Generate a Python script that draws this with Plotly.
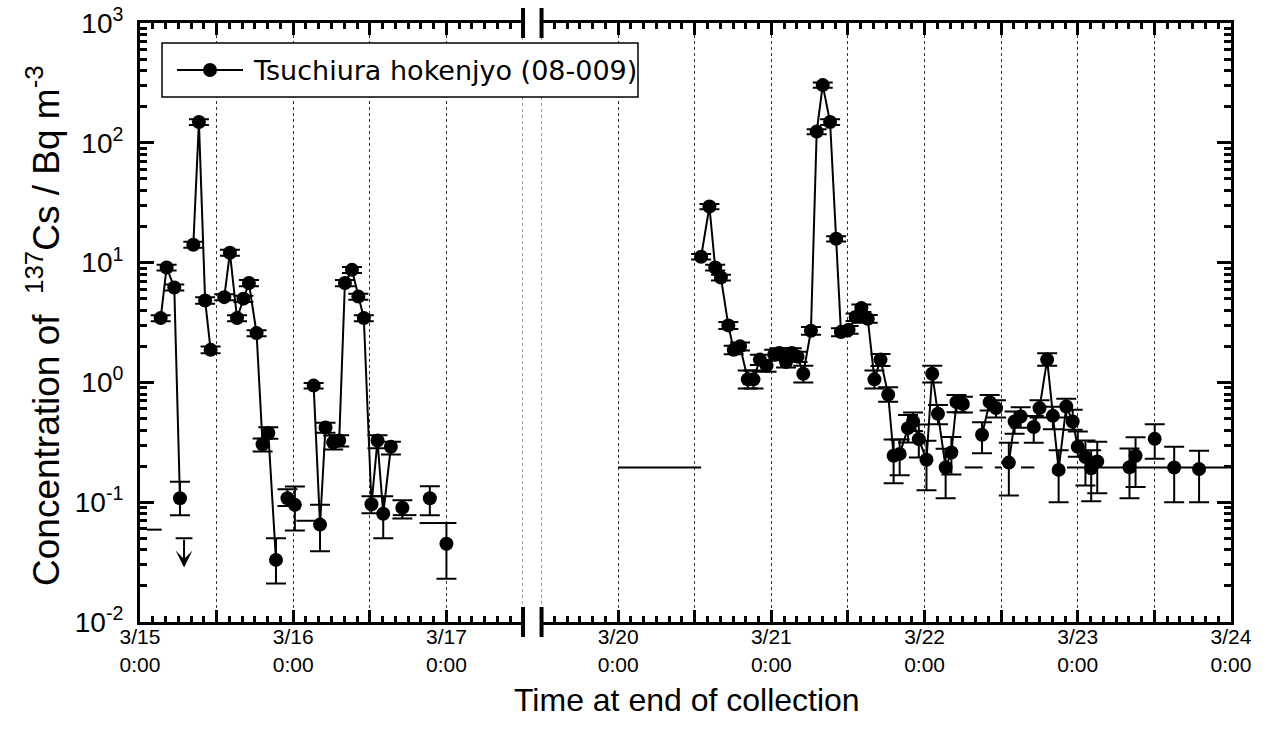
import numpy as np
import plotly.graph_objects as go

# ---------------- data (hours since 2011-03-15 00:00, end of collection) ----------------
left_hours = [3.24, 4.17, 5.37, 6.26, 8.35, 9.23, 10.2, 11.06, 13.2, 14.08, 15.2, 16.2, 17.06,
              18.26, 19.2, 20.1, 21.3, 23.1, 24.26, 27.2, 28.2, 29.06, 30.26, 31.2, 32.1, 33.2,
              34.2, 35.06, 36.26, 37.2, 38.1, 39.3, 41.1, 45.4, 48.0]
left_conc = [3.44, 9.1, 6.2, 0.108, 14.1, 149, 4.83, 1.87, 5.15, 12.1, 3.44, 5.0, 6.75,
             2.58, 0.305, 0.378, 0.033, 0.108, 0.095, 0.94, 0.065, 0.42, 0.315, 0.327, 6.75, 8.7,
             5.2, 3.44, 0.096, 0.327, 0.080, 0.29, 0.090, 0.108, 0.045]
left_err_plus = [0.2, 0.5, 0.35, 0.04, 0.8, 8, 0.3, 0.12, 0.3, 0.7, 0.2, 0.3, 0.4,
                 0.15, 0.035, 0.045, 0.017, 0.02, 0.04, 0.05, 0.03, 0.04, 0.045, 0.035, 0.4, 0.5,
                 0.3, 0.2, 0.016, 0.035, 0.032, 0.03, 0.014, 0.028, 0.022]
left_err_minus = [0.2, 0.5, 0.35, 0.03, 0.8, 8, 0.3, 0.12, 0.3, 0.7, 0.2, 0.3, 0.4,
                  0.15, 0.04, 0.04, 0.012, 0.015, 0.037, 0.05, 0.026, 0.04, 0.04, 0.035, 0.4, 0.5,
                  0.3, 0.2, 0.015, 0.045, 0.03, 0.04, 0.017, 0.03, 0.022]
left_group = [1, 1, 1, 1, 2, 2, 2, 2, 3, 3, 3, 3, 3,
              3, 3, 3, 3, 4, 4, 5, 5, 5, 5, 5, 5, 5,
              5, 5, 5, 5, 5, 5, 6, 7, 8]

right_hours = [133.0, 134.3, 135.2, 136.1, 137.26, 138.1, 139.1, 140.3, 141.2, 142.2, 143.25,
               144.45, 145.25, 146.3, 147.2, 148.1, 149.0, 150.2, 151.1, 152.05, 153.2, 154.15,
               154.9, 156.1, 157.2, 158.1, 159.1, 160.15, 161.1, 162.3, 163.15, 164.1, 165.4,
               166.2, 167.1, 168.3, 169.2, 170.1, 171.3, 172.2, 173.0, 174.0, 177.0, 178.2,
               179.2, 181.2, 182.1, 183.05, 185.1, 186.0, 187.2, 188.1, 189.0, 190.2, 191.2,
               192.0, 193.2, 194.1, 195.05, 200.1, 201.05, 204.05, 207.1, 211.0]
right_conc = [11.2, 29.4, 9.1, 7.5, 2.99, 1.87, 2.0, 1.06, 1.06, 1.55, 1.38,
              1.70, 1.76, 1.48, 1.76, 1.64, 1.18, 2.70, 124, 303, 149, 15.8,
              2.63, 2.75, 3.51, 4.17, 3.40, 1.06, 1.55, 0.79, 0.244, 0.253, 0.415,
              0.472, 0.336, 0.226, 1.18, 0.547, 0.195, 0.26, 0.684, 0.66, 0.366, 0.684,
              0.61, 0.214, 0.472, 0.519, 0.424, 0.61, 1.55, 0.526, 0.186, 0.63, 0.472,
              0.29, 0.238, 0.192, 0.219, 0.196, 0.244, 0.338, 0.195, 0.189]
right_err_plus = [0.6, 1.5, 0.5, 0.4, 0.2, 0.15, 0.15, 0.2, 0.2, 0.15, 0.15,
                  0.17, 0.17, 0.15, 0.17, 0.16, 0.2, 0.2, 6, 15, 8, 0.8,
                  0.2, 0.2, 0.25, 0.3, 0.25, 0.2, 0.18, 0.12, 0.09, 0.08, 0.12,
                  0.09, 0.11, 0.1, 0.2, 0.1, 0.085, 0.09, 0.1, 0.1, 0.1, 0.1,
                  0.1, 0.1, 0.1, 0.1, 0.1, 0.1, 0.2, 0.1, 0.085, 0.1, 0.12,
                  0.1, 0.09, 0.08, 0.1, 0.085, 0.105, 0.11, 0.095, 0.08]
right_err_minus = [0.6, 1.5, 0.5, 0.4, 0.2, 0.15, 0.15, 0.17, 0.17, 0.15, 0.15,
                   0.17, 0.17, 0.15, 0.17, 0.16, 0.18, 0.2, 6, 15, 8, 0.8,
                   0.2, 0.2, 0.25, 0.3, 0.25, 0.17, 0.18, 0.1, 0.1, 0.085, 0.1,
                   0.08, 0.1, 0.1, 0.18, 0.1, 0.087, 0.09, 0.12, 0.1, 0.11, 0.1,
                   0.1, 0.1, 0.1, 0.1, 0.11, 0.1, 0.17, 0.12, 0.086, 0.12, 0.07,
                   0.05, 0.1, 0.09, 0.1, 0.088, 0.11, 0.108, 0.095, 0.089]
right_group = [1] * 42 + [2, 2, 2, 3, 3, 3] + [4] * 11 + [5, 5, 6, 7, 8]

# samples below detection limit: collection interval and detection limit
nd_left_start = [1.1, 24.5, 39.6, 43.8]
nd_left_end = [3.4, 27.5, 43.3, 46.5]
nd_left_value = [0.059, 0.07, 0.078, 0.067]
nd_right_start = [120.0, 174.3, 179.0, 183.1, 190.3]
nd_right_end = [133.0, 177.1, 180.0, 185.2, 216.0]
nd_right_value = [0.195, 0.195, 0.195, 0.195, 0.195]

# upper limit (arrow)
ul_hours = [6.9]
ul_value = [0.05]

series_name = "Tsuchiura hokenjyo (08-009)"
left_range = [0, 60]      # 3/15 0:00 - 3/17 12:00
right_range = [108, 216]  # 3/19 12:00 - 3/24 0:00
left_ticks = [0, 12, 24, 36, 48, 60]
left_ticktext = ["3/15<br>0:00", "", "3/16<br>0:00", "", "3/17<br>0:00", ""]
right_ticks = [108, 120, 132, 144, 156, 168, 180, 192, 204, 216]
right_ticktext = ["", "3/20<br>0:00", "", "3/21<br>0:00", "", "3/22<br>0:00", "",
                  "3/23<br>0:00", "", "3/24<br>0:00"]
y_tickvals = [0.01, 0.1, 1, 10, 100, 1000]
y_ticktext = ["10<sup>-2</sup>", "10<sup>-1</sup>", "10<sup>0</sup>", "10<sup>1</sup>",
              "10<sup>2</sup>", "10<sup>3</sup>"]

# ---------------- figure ----------------
# page body margin is removed (post_script), so figure pixels = window pixels
W, H = 1275, 735
ML, MR, MT, MB = 140, 44, 23, 113
plot_w = W - ML - MR
plot_h = H - MT - MB
gap = 18.5 / plot_w
span_l = left_range[1] - left_range[0]
span_r = right_range[1] - right_range[0]
d1 = (1 - gap) * span_l / (span_l + span_r)
d2 = d1 + gap

FONT = "Liberation Sans, Arial, Helvetica, sans-serif"


def line_with_gaps(xs, ys, groups):
    lx, ly = [], []
    prev = None
    for x, y, g in zip(xs, ys, groups):
        if prev is not None and g != prev:
            lx.append(None)
            ly.append(None)
        lx.append(x)
        ly.append(y)
        prev = g
    return lx, ly


def seg_trace(starts, ends, vals):
    sx, sy = [], []
    for s, e, v in zip(starts, ends, vals):
        sx += [s, e, None]
        sy += [v, v, None]
    return sx, sy


fig = go.Figure()
for (hrs, conc, ep, em, grp, xa, ya, nds, nde, ndv) in [
    (left_hours, left_conc, left_err_plus, left_err_minus, left_group, "x", "y",
     nd_left_start, nd_left_end, nd_left_value),
    (right_hours, right_conc, right_err_plus, right_err_minus, right_group, "x2", "y2",
     nd_right_start, nd_right_end, nd_right_value),
]:
    sx, sy = seg_trace(nds, nde, ndv)
    fig.add_trace(go.Scatter(x=sx, y=sy, mode="lines", xaxis=xa, yaxis=ya,
                             line=dict(color="black", width=2), showlegend=False,
                             hoverinfo="skip", cliponaxis=False))
    lx, ly = line_with_gaps(hrs, conc, grp)
    fig.add_trace(go.Scatter(x=lx, y=ly, mode="lines", xaxis=xa, yaxis=ya,
                             line=dict(color="black", width=2), showlegend=False,
                             connectgaps=False, hoverinfo="skip"))
    fig.add_trace(go.Scatter(x=hrs, y=conc, mode="markers", xaxis=xa, yaxis=ya,
                             marker=dict(symbol="circle", size=14, color="black"),
                             error_y=dict(type="data", array=ep, arrayminus=em, symmetric=False,
                                          color="black", thickness=2, width=10),
                             name=series_name, showlegend=False))

# upper-limit cap
fig.add_trace(go.Scatter(x=ul_hours, y=ul_value, mode="markers", xaxis="x", yaxis="y",
                         marker=dict(symbol="line-ew", size=12, color="black",
                                     line=dict(color="black", width=2)),
                         showlegend=False, hoverinfo="skip"))

annotations = []
for h, v in zip(ul_hours, ul_value):
    annotations.append(dict(x=h, y=np.log10(v / 1.75), ax=h, ay=np.log10(v), xref="x", yref="y",
                            axref="x", ayref="y", showarrow=True, arrowhead=3, arrowsize=1.4,
                            arrowwidth=2, arrowcolor="black", text="", standoff=0))

xcommon = dict(showline=True, linewidth=3, linecolor="black", mirror="ticks",
               ticks="inside", ticklen=12, tickwidth=3, tickcolor="black",
               showgrid=True, gridcolor="#333333", griddash="dot", gridwidth=1,
               zeroline=False, tickmode="array", automargin=False, ticklabeloverflow="allow",
               ticklabelstandoff=-6,
               tickfont=dict(family=FONT, size=21, color="black"),
               minor=dict(tick0=0, dtick=2, ticks="inside", ticklen=6, tickwidth=3,
                          tickcolor="black", showgrid=False))
minor_y = [m * 10.0 ** e for e in range(-2, 3) for m in range(2, 10)]
ycommon = dict(type="log", range=[-2, 3], showline=True, linewidth=3, linecolor="black",
               ticks="inside", ticklen=14, tickwidth=3, tickcolor="black", showgrid=False,
               zeroline=False, tickmode="array", tickvals=y_tickvals, automargin=False,
               ticklabeloverflow="allow",
               minor=dict(tickmode="array", tickvals=minor_y, ticks="inside", ticklen=7,
                          tickwidth=3, tickcolor="black", showgrid=False))

fig.update_layout(
    width=W, height=H, margin=dict(l=ML, r=MR, t=MT, b=MB, autoexpand=False),
    plot_bgcolor="white", paper_bgcolor="white", showlegend=False,
    xaxis=dict(domain=[0, d1], range=left_range, anchor="y", tickvals=left_ticks,
               ticktext=left_ticktext, **xcommon),
    xaxis2=dict(domain=[d2, 1], range=right_range, anchor="y2", tickvals=right_ticks,
                ticktext=right_ticktext, **xcommon),
    yaxis=dict(anchor="x", side="left", ticktext=y_ticktext, ticklabelstandoff=8,
               tickfont=dict(family=FONT, size=28, color="black"), **ycommon),
    yaxis2=dict(anchor="x2", side="right", matches="y", showticklabels=False, **ycommon),
)


def px_x(p):
    return (p - ML) / plot_w


def px_y(p):
    return (H - MB - p) / plot_h


# axis titles
annotations.append(dict(text="Time at end of collection", xref="paper", yref="paper",
                        x=px_x(687), y=px_y(700), xanchor="center", yanchor="middle",
                        showarrow=False, font=dict(family=FONT, size=32, color="black")))
annotations.append(dict(text="Concentration of  <sup>137</sup>Cs / Bq m<sup>-3</sup>",
                        xref="paper", yref="paper", x=px_x(43), y=px_y(326), textangle=-90,
                        xanchor="center", yanchor="middle", showarrow=False,
                        font=dict(family=FONT, size=37, color="black")))

shapes = []
# dotted grid lines at the panel edges (3/17 12:00 and 3/19 12:00)
for xr, xv in (("x", left_range[1]), ("x2", right_range[0])):
    shapes.append(dict(type="line", xref=xr, yref="paper", x0=xv, x1=xv, y0=0, y1=1,
                       line=dict(color="#333333", width=1, dash="dot"), layer="below"))

# manual legend
shapes.append(dict(type="rect", xref="paper", yref="paper", x0=px_x(162), x1=px_x(638),
                   y0=px_y(97), y1=px_y(43), line=dict(color="black", width=1.5),
                   fillcolor="white", layer="above"))
shapes.append(dict(type="line", xref="paper", yref="paper", x0=px_x(177), x1=px_x(243),
                   y0=px_y(70), y1=px_y(70), line=dict(color="black", width=2)))
shapes.append(dict(type="circle", xref="paper", yref="paper", xsizemode="pixel",
                   ysizemode="pixel", xanchor=px_x(210), yanchor=px_y(70), x0=-7, x1=7,
                   y0=-7, y1=7, fillcolor="black", line=dict(color="black", width=0)))
annotations.append(dict(text=series_name, xref="paper", yref="paper", x=px_x(251), y=px_y(70),
                        xanchor="left", yanchor="middle", showarrow=False,
                        font=dict(family="DejaVu Sans", size=27, color="black")))

# axis break marks
for xb in (d1, d2):
    for ya in (0, 1):
        shapes.append(dict(type="line", xref="paper", yref="paper", x0=xb, x1=xb,
                           ysizemode="pixel", yanchor=ya, y0=-15, y1=15,
                           line=dict(color="black", width=4)))

fig.update_layout(shapes=shapes, annotations=annotations)
fig.write_html("out.html", config={"displayModeBar": False},
               post_script="document.body.style.margin='0';document.body.style.overflow='hidden';")
